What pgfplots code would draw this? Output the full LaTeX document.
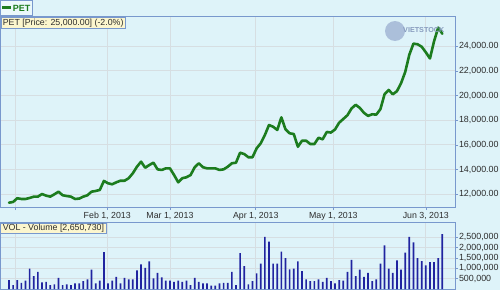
\documentclass[border=0pt]{standalone}
\usepackage{pgfplots}
\pgfplotsset{compat=1.18}
\usepackage{fontspec}
\setmainfont{Liberation Sans}
\definecolor{bgcol}{RGB}{222,243,249}
\definecolor{gridcol}{RGB}{214,222,226}
\definecolor{axcol}{RGB}{120,152,205}
\definecolor{pricecol}{RGB}{28,124,30}
\definecolor{volcol}{RGB}{32,36,160}
\definecolor{boxcol}{RGB}{252,246,206}
\definecolor{txtcol}{RGB}{45,45,45}
\definecolor{logocol}{RGB}{150,170,205}
\definecolor{logotxt}{RGB}{135,155,190}

\pgfplotstableread{
d p
1 11320
2 11380
3 11680
4 11620
5 11620
6 11700
7 11810
8 11810
9 12020
10 11890
11 11810
12 12000
13 12210
14 11920
15 11860
16 11810
17 11620
18 11650
19 11810
20 11920
21 12210
22 12270
23 12350
24 13080
25 12890
26 12810
27 12970
28 13100
29 13100
30 13300
31 13700
32 14230
33 14640
34 14150
35 14370
36 14560
37 14020
38 13970
39 14100
40 14100
41 13560
42 12970
43 13300
44 13380
45 13560
46 14190
47 14510
48 14190
49 14100
50 14100
51 14100
52 13970
53 14020
54 14230
55 14510
56 14560
57 15370
58 15260
59 15000
60 15000
61 15720
62 16130
63 16800
64 17610
65 17470
66 17210
67 18230
68 17260
69 16940
70 16880
71 15850
72 16340
73 16340
74 16070
75 16070
76 16580
77 16450
78 17050
79 17000
80 17250
81 17800
82 18100
83 18400
84 18950
85 19250
86 19000
87 18600
88 18350
89 18480
90 18450
91 18900
92 20100
93 20450
94 20100
95 20350
96 21000
97 21900
98 23300
99 24200
100 24150
101 23950
102 23500
103 23000
104 24400
105 25500
106 25000
}\pricetable

\pgfplotstableread{
d v
1 430000
2 190000
3 430000
4 300000
5 400000
6 980000
7 620000
8 830000
9 320000
10 350000
11 190000
12 220000
13 540000
14 190000
15 220000
16 190000
17 270000
18 270000
19 380000
20 460000
21 940000
22 270000
23 400000
24 1780000
25 270000
26 400000
27 590000
28 270000
29 540000
30 460000
31 460000
32 900000
33 1190000
34 1020000
35 1330000
36 510000
37 780000
38 560000
39 400000
40 400000
41 350000
42 400000
43 350000
44 400000
45 190000
46 540000
47 350000
48 270000
49 270000
50 160000
51 160000
52 270000
53 300000
54 300000
55 830000
56 190000
57 1730000
58 1100000
59 220000
60 380000
61 750000
62 1220000
63 2520000
64 2290000
65 1220000
66 1220000
67 1810000
68 1490000
69 950000
70 980000
71 1330000
72 860000
73 460000
74 380000
75 380000
76 460000
77 350000
78 540000
79 380000
80 270000
81 430000
82 400000
83 830000
84 1410000
85 620000
86 940000
87 590000
88 780000
89 380000
90 460000
91 1220000
92 2100000
93 980000
94 780000
95 1380000
96 940000
97 1750000
98 2520000
99 2250000
100 1490000
101 1350000
102 1140000
103 1300000
104 1300000
105 1490000
106 2650730
}\voltable

\begin{document}
\begin{tikzpicture}[x=1pt,y=1pt]
\useasboundingbox (0,0) rectangle (500,290);
\fill[bgcol] (0,0) rectangle (500,290);

% main price panel
\begin{axis}[
  at={(0pt,274pt)}, anchor=north west,
  scale only axis, width=455pt, height=191pt,
  xmin=-1.18, xmax=109.07,
  ymin=10970, ymax=26440,
  scaled y ticks=false,
  axis line style={draw=axcol, line width=0.8pt},
  grid=major,
  major grid style={draw=gridcol, line width=0.8pt},
  tick align=outside,
  major tick length=3pt,
  major tick style={draw=axcol, line width=0.6pt},
  xtick pos=bottom,
  ytick pos=right,
  yticklabel pos=right,
  xtick={2.6,24.8,40,60.8,79.6,102},
  xticklabels={{},{Feb 1, 2013},{Mar 1, 2013},{Apr 1, 2013},{May 1, 2013},{Jun 3, 2013}},
  ytick={12000,14000,16000,18000,20000,22000,24000},
  yticklabels={{12,000.00},{14,000.00},{16,000.00},{18,000.00},{20,000.00},{22,000.00},{24,000.00}},
  xticklabel style={font=\fontsize{8.8}{10}\selectfont, text=txtcol, inner sep=0pt, yshift=-2.2pt},
  yticklabel style={font=\fontsize{8.9}{10}\selectfont, text=txtcol, inner sep=0pt, xshift=0.8pt, anchor=west},
]
\addplot[pricecol, line width=2.6pt, line join=round, line cap=round] table[x=d,y=p] {\pricetable};
\end{axis}

% volume panel
\begin{axis}[
  at={(0pt,1pt)}, anchor=south west,
  scale only axis, width=455pt, height=66.3pt,
  xmin=-1.18, xmax=109.07,
  ymin=0, ymax=3200000,
  axis line style={draw=axcol, line width=0.8pt},
  grid=major,
  major grid style={draw=gridcol, line width=0.8pt},
  tick align=outside,
  xtick={2.6,24.8,40,60.8,79.6,102},
  xticklabels={},
  xtick style={draw=none},
  ytick pos=right,
  yticklabel pos=right,
  major tick length=3pt,
  ytick style={draw=axcol, line width=0.6pt},
  ytick={500000,1000000,1500000,2000000,2500000},
  yticklabels={{500,000},{1,000,000},{1,500,000},{2,000,000},{2,500,000}},
  yticklabel style={font=\fontsize{8.9}{10}\selectfont, text=txtcol, inner sep=0pt, xshift=0.8pt, anchor=west},
  scaled y ticks=false,
]
\addplot[ybar, bar width=1.7pt, bar shift=0pt, fill=volcol, draw=none] table[x=d,y=v] {\voltable};
\end{axis}

% watermark
\fill[logocol, opacity=0.7] (395,259) circle (10);
\node[anchor=west, inner sep=0pt, text=logotxt, font=\fontsize{7.2}{8}\selectfont\bfseries] at (403,259.5) {VIETSTOCK};

% labels
\node[anchor=north west, draw=axcol, fill=bgcol!60!white, line width=0.6pt,
      inner sep=0pt, minimum width=31pt, minimum height=14.5pt,
      font=\fontsize{9}{10}\selectfont\bfseries, text=pricecol] at (0.5,289.5)
  {\rule[2.6pt]{9pt}{2.3pt}\kern1.5pt PET};
\node[anchor=north west, draw=axcol, fill=boxcol, line width=0.6pt,
      inner xsep=2pt, inner ysep=0pt, minimum height=11.6pt,
      font=\fontsize{8.8}{10}\selectfont, text=txtcol] at (0.5,273.3)
  {PET [Price: 25,000.00] (-2.0\%)};
\node[anchor=north west, draw=axcol, fill=boxcol, line width=0.6pt,
      inner xsep=2pt, inner ysep=0pt, minimum height=10.6pt,
      font=\fontsize{8.8}{10}\selectfont, text=txtcol] at (0.5,67.3)
  {VOL - Volume [2,650,730]};
\end{tikzpicture}
\end{document}
